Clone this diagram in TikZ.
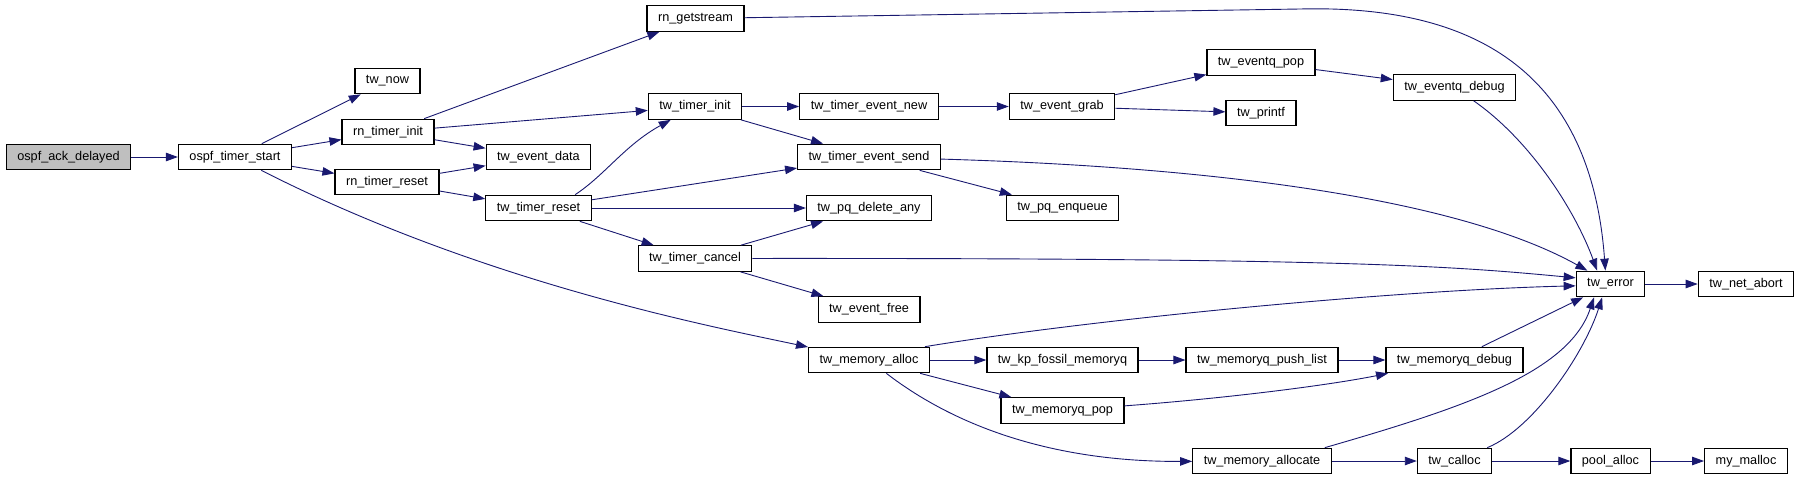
\documentclass[tikz,border=0pt]{standalone}
\usepackage{fontspec}
\setmainfont{Liberation Sans}
\usetikzlibrary{arrows.meta}
\definecolor{edgeblue}{HTML}{191970}
\definecolor{rootgray}{HTML}{BFBFBF}
\tikzset{
  fn/.style={draw=black, fill=white, line width=1.2pt, minimum height=25.5pt,
    inner xsep=11pt, inner ysep=0pt, font=\fontsize{12.7}{15}\selectfont},
  root/.style={fn, fill=rootgray},
  call/.style={draw=edgeblue, line width=0.9pt, -{Triangle[length=12pt,width=8.5pt]}},
}

\begin{document}
\begin{tikzpicture}[x=1pt, y=-1pt]
    \useasboundingbox (0,0) rectangle (1799,480);

    % Fonctions
    \node[root] (ack) at (68.5,157) {ospf\_ack\_delayed};
    \node[fn] (start) at (235,157) {ospf\_timer\_start};
    \node[fn] (now) at (387.5,81) {tw\_now};
    \node[fn] (rninit) at (388,132) {rn\_timer\_init};
    \node[fn] (rnreset) at (387,182) {rn\_timer\_reset};
    \node[fn] (evdata) at (538.5,157) {tw\_event\_data};
    \node[fn] (treset) at (538.5,208) {tw\_timer\_reset};
    \node[fn] (getstream) at (695.5,18.5) {rn\_getstream};
    \node[fn] (tinit) at (695,106.5) {tw\_timer\_init};
    \node[fn] (tcancel) at (695,258.5) {tw\_timer\_cancel};
    \node[fn] (tevnew) at (869,106.5) {tw\_timer\_event\_new};
    \node[fn] (tevsend) at (869,157) {tw\_timer\_event\_send};
    \node[fn] (pqdel) at (869,208) {tw\_pq\_delete\_any};
    \node[fn] (evfree) at (869,309.5) {tw\_event\_free};
    \node[fn] (memalloc) at (869,360) {tw\_memory\_alloc};
    \node[fn] (grab) at (1062,106.5) {tw\_event\_grab};
    \node[fn] (pqenq) at (1062.5,208) {tw\_pq\_enqueue};
    \node[fn] (fossil) at (1062.5,360) {tw\_kp\_fossil\_memoryq};
    \node[fn] (mqpop) at (1062.5,410.5) {tw\_memoryq\_pop};
    \node[fn] (eqpop) at (1261,62.5) {tw\_eventq\_pop};
    \node[fn] (printf) at (1261,113) {tw\_printf};
    \node[fn] (pushlist) at (1262,360) {tw\_memoryq\_push\_list};
    \node[fn] (allocate) at (1262,461) {tw\_memory\_allocate};
    \node[fn] (eqdebug) at (1454.5,87.5) {tw\_eventq\_debug};
    \node[fn] (mqdebug) at (1454.5,360) {tw\_memoryq\_debug};
    \node[fn] (calloc) at (1454.5,461) {tw\_calloc};
    \node[fn] (error) at (1610.5,284) {tw\_error};
    \node[fn] (pool) at (1610.5,461) {pool\_alloc};
    \node[fn] (abort) at (1746,284) {tw\_net\_abort};
    \node[fn] (malloc) at (1746,461) {my\_malloc};
    \coordinate (gsbend) at (1300,9);

    % Appels
    \draw[call] (ack) -- (start);
    \draw[call] (start) -- (now);
    \draw[call] (start) -- (rninit);
    \draw[call] (start) -- (rnreset);
    \draw[call] (start) .. controls (484,283.5) and (714,327) .. (memalloc);
    \draw[call] (rninit) -- (getstream);
    \draw[call] (rninit) -- (tinit);
    \draw[call] (rninit) -- (evdata);
    \draw[call] (rnreset) -- (evdata);
    \draw[call] (rnreset) -- (treset);
    \draw[call] (getstream) -- (gsbend) .. controls (1460,5) and (1590,60) .. (error.111);
    \draw[call] (treset.20) .. controls (605,175) and (625,145) .. (tinit);
    \draw[call] (treset) -- (tevsend);
    \draw[call] (treset) -- (pqdel);
    \draw[call] (treset) -- (tcancel);
    \draw[call] (tinit) -- (tevnew);
    \draw[call] (tinit) -- (tevsend);
    \draw[call] (tevnew) -- (grab);
    \draw[call] (grab) -- (eqpop);
    \draw[call] (grab) -- (printf);
    \draw[call] (eqpop) -- (eqdebug);
    \draw[call] (eqdebug) .. controls (1530,140) and (1575,210) .. (error.135);
    \draw[call] (tevsend) .. controls (1250,168) and (1470,205) .. (error.150);
    \draw[call] (tevsend) -- (pqenq);
    \draw[call] (tcancel) -- (pqdel);
    \draw[call] (tcancel) .. controls (1350,258) and (1450,266) .. (error.170);
    \draw[call] (tcancel) -- (evfree);
    \draw[call] ([xshift=-5pt]memalloc.north east) .. controls (1100,318) and (1400,290) .. (error.183);
    \draw[call] (memalloc) -- (fossil);
    \draw[call] (memalloc) -- (mqpop);
    \draw[call] (memalloc) .. controls (960,430) and (1060,462) .. (allocate);
    \draw[call] (fossil) -- (pushlist);
    \draw[call] (pushlist) -- (mqdebug);
    \draw[call] (mqpop) .. controls (1230,398) and (1330,385) .. (mqdebug);
    \draw[call] (mqdebug) -- (error);
    \draw[call] (allocate.12) .. controls (1466,407) and (1569,372) .. (error.-141);
    \draw[call] (allocate) -- (calloc);
    \draw[call] (calloc) .. controls (1533,429) and (1584,354) .. (error.-122);
    \draw[call] (calloc) -- (pool);
    \draw[call] (pool) -- (malloc);
    \draw[call] (error) -- (abort);
\end{tikzpicture}
\end{document}
